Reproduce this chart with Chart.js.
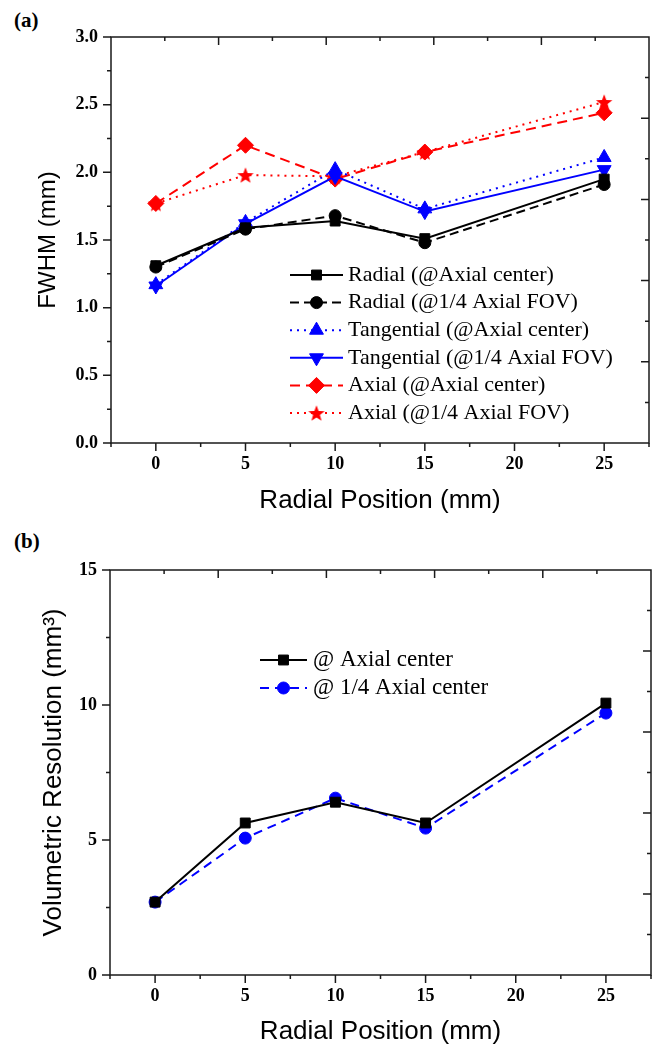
<!DOCTYPE html>
<html>
<head>
<meta charset="utf-8">
<title>FWHM and volumetric resolution vs radial position</title>
<script src="https://cdn.jsdelivr.net/npm/chart.js"></script>
<style>
  body { margin: 0; background: #fff; }
  .panel { position: absolute; left: 0; }
  .tag { position: absolute; left: 14px; font: bold 21px 'Liberation Serif', serif; line-height: 1; }
</style>
</head>
<body>
<div class="tag" style="top:10px">(a)</div>
<div class="panel" style="top:0"><canvas id="fwhm" width="659" height="518"></canvas></div>
<div class="tag" style="top:531px">(b)</div>
<div class="panel" style="top:525px"><canvas id="vol" width="659" height="522"></canvas></div>

<script>
// radial positions (mm)
const positions = [0, 5, 10, 15, 25];

// (a) FWHM in mm
const radialCenter  = [1.31, 1.59, 1.64, 1.51, 1.95];
const radialQuarter = [1.30, 1.58, 1.68, 1.48, 1.91];
const tangCenter    = [1.17, 1.63, 2.02, 1.73, 2.11];
const tangQuarter   = [1.16, 1.62, 1.97, 1.71, 2.02];
const axialCenter   = [1.77, 2.20, 1.95, 2.15, 2.44];
const axialQuarter  = [1.77, 1.98, 1.97, 2.15, 2.52];

// (b) volumetric resolution in mm^3
const volCenter  = [2.70, 5.63, 6.40, 5.63, 10.07];
const volQuarter = [2.70, 5.07, 6.55, 5.44, 9.70];

// tick labels
const xTicks = [0, 5, 10, 15, 20, 25];
const fwhmTicks = [0, 0.5, 1.0, 1.5, 2.0, 2.5, 3.0];
const volTicks = [0, 5, 10, 15];

const tickFont = { family: 'Liberation Serif', size: 18, weight: 'bold' };
const titleFont = { family: 'Liberation Sans', size: 26 };

function pts(vals) {
  return positions.map((x, i) => ({ x: x, y: vals[i] }));
}

// filled red star for the last series
const starImg = (function () {
  const c = document.createElement('canvas');
  c.width = 18; c.height = 18;
  const g = c.getContext('2d');
  g.fillStyle = '#ff0000';
  g.beginPath();
  for (let i = 0; i < 10; i++) {
    const r = i % 2 ? 3.6 : 8.6;
    const a = -Math.PI / 2 + i * Math.PI / 5;
    const px = 9 + r * Math.cos(a), py = 9.8 + r * Math.sin(a);
    if (i) g.lineTo(px, py); else g.moveTo(px, py);
  }
  g.closePath();
  g.fill();
  return c;
})();

function series(label, vals, color, dash, style, radius, rot) {
  return {
    label: label,
    data: pts(vals),
    borderColor: color,
    backgroundColor: color,
    pointBackgroundColor: color,
    pointBorderColor: color,
    pointBorderWidth: 1,
    borderWidth: 2,
    borderDash: dash,
    pointStyle: style,
    pointRadius: radius,
    pointRotation: rot || 0,
    tension: 0
  };
}

// frame with ticks on all four sides (Origin style)
const frameTicks = {
  id: 'frameTicks',
  afterDraw(chart, args, opts) {
    const { ctx, chartArea: a, scales } = chart;
    const near = (v, m) => Math.abs(v / m - Math.round(v / m)) < 1e-6;
    ctx.save();
    ctx.strokeStyle = '#1a1a1a';
    ctx.lineWidth = 1.5;
    ctx.strokeRect(a.left, a.top, a.right - a.left, a.bottom - a.top);
    ctx.beginPath();
    const xs = scales.x, ys = scales.y;
    for (let v = xs.min; v <= xs.max + 1e-9; v += opts.xMinor) {
      const px = xs.getPixelForValue(v);
      const len = near(v, opts.xMajor) ? 8 : 4;
      ctx.moveTo(px, a.bottom); ctx.lineTo(px, a.bottom + len);
    }
    for (let v = ys.min; v <= ys.max + 1e-9; v += opts.yMinor) {
      const py = ys.getPixelForValue(v);
      const len = near(v, opts.yMajor) ? 8 : 4;
      ctx.moveTo(a.left, py); ctx.lineTo(a.left - len, py);
    }
    // mirrored top / right axes: 10 divisions, inward ticks
    for (let i = 1; i < 10; i++) {
      const len = i % 2 ? 4 : 8;
      const px = a.left + (a.right - a.left) * i / 10;
      ctx.moveTo(px, a.top); ctx.lineTo(px, a.top + len);
      const py = a.bottom - (a.bottom - a.top) * i / 10;
      ctx.moveTo(a.right, py); ctx.lineTo(a.right - len, py);
    }
    ctx.stroke();
    ctx.restore();
  }
};

// legend drawn inside the plot: line + marker + text
const inlineLegend = {
  id: 'inlineLegend',
  afterDraw(chart, args, opts) {
    const ctx = chart.ctx;
    ctx.save();
    chart.data.datasets.forEach((ds, i) => {
      const y = opts.y + i * opts.gap;
      ctx.strokeStyle = ds.borderColor;
      ctx.lineWidth = ds.borderWidth;
      ctx.setLineDash(ds.borderDash || []);
      ctx.beginPath();
      ctx.moveTo(opts.x0, y);
      ctx.lineTo(opts.x1, y);
      ctx.stroke();
      ctx.setLineDash([]);
      ctx.fillStyle = ds.pointBackgroundColor;
      ctx.strokeStyle = ds.pointBorderColor;
      ctx.lineWidth = 1;
      Chart.helpers.drawPoint(ctx, {
        pointStyle: ds.pointStyle,
        rotation: ds.pointRotation,
        radius: ds.pointRadius,
        borderWidth: 1
      }, (opts.x0 + opts.x1) / 2, y);
      ctx.fillStyle = '#000';
      ctx.font = opts.font;
      ctx.textBaseline = 'middle';
      ctx.fillText(ds.label, opts.tx, y);
    });
    ctx.restore();
  }
};

function makeOptions(o) {
  return {
    responsive: false,
    animation: false,
    events: [],
    layout: { padding: o.padding },
    plugins: {
      legend: { display: false },
      tooltip: { enabled: false },
      frameTicks: o.ticks,
      inlineLegend: o.legend
    },
    scales: {
      x: {
        type: 'linear',
        min: -2.5,
        max: 27.5,
        grid: { display: false, drawTicks: false },
        border: { display: false },
        afterBuildTicks: s => { s.ticks = xTicks.map(v => ({ value: v })); },
        afterFit: s => { s.height = o.xHeight; },
        ticks: { color: '#000', font: tickFont, padding: 11, maxRotation: 0 },
        title: { display: true, text: 'Radial Position (mm)', color: '#000', font: titleFont, padding: { top: 4, bottom: o.xTitlePad } }
      },
      y: {
        min: o.yMin,
        max: o.yMax,
        grid: { display: false, drawTicks: false },
        border: { display: false },
        afterBuildTicks: s => { s.ticks = o.yTicks.map(v => ({ value: v })); },
        afterFit: s => { s.width = o.yWidth; },
        ticks: { color: '#000', font: tickFont, padding: 13, callback: o.yFmt },
        title: { display: true, text: o.yTitle, color: '#000', font: o.yTitleFont, padding: { top: 4, bottom: 0 } }
      }
    }
  };
}

new Chart(document.getElementById('fwhm'), {
  type: 'line',
  data: {
    datasets: [
      series('Radial (@Axial center)', radialCenter, '#000000', [], 'rect', 7),
      series('Radial (@1/4 Axial FOV)', radialQuarter, '#000000', [9, 5], 'circle', 6),
      series('Tangential (@Axial center)', tangCenter, '#0000ff', [2, 5], 'triangle', 8),
      series('Tangential (@1/4 Axial FOV)', tangQuarter, '#0000ff', [], 'triangle', 8, 180),
      series('Axial (@Axial center)', axialCenter, '#ff0000', [10, 6], 'rectRot', 8),
      series('Axial (@1/4 Axial FOV)', axialQuarter, '#ff0000', [2, 5], starImg, 9)
    ]
  },
  options: makeOptions({
    padding: { left: 30, top: 37, right: 4, bottom: 0 },
    xHeight: 75,
    xTitlePad: 2,
    yWidth: 81,
    yMin: 0,
    yMax: 3,
    yTicks: fwhmTicks,
    yFmt: v => v.toFixed(1),
    yTitle: 'FWHM (mm)',
    yTitleFont: { family: 'Liberation Sans', size: 24 },
    ticks: { xMinor: 2.5, xMajor: 5, yMinor: 0.25, yMajor: 0.5 },
    legend: { x0: 290, x1: 343, tx: 348, y: 275, gap: 27.6, font: "22px 'Liberation Serif'" }
  }),
  plugins: [frameTicks, inlineLegend]
});

new Chart(document.getElementById('vol'), {
  type: 'line',
  data: {
    datasets: [
      series('@ Axial center', volCenter, '#000000', [], 'rect', 7),
      series('@ 1/4 Axial center', volQuarter, '#0000ff', [9, 6], 'circle', 6)
    ]
  },
  options: makeOptions({
    padding: { left: 34, top: 45, right: 4, bottom: 0 },
    xHeight: 72,
    xTitlePad: 0,
    yWidth: 76,
    yMin: 0,
    yMax: 15,
    yTicks: volTicks,
    yFmt: v => String(v),
    yTitle: 'Volumetric Resolution (mm\u00B3)',
    yTitleFont: { family: 'Liberation Sans', size: 26 },
    ticks: { xMinor: 2.5, xMajor: 5, yMinor: 2.5, yMajor: 5 },
    legend: { x0: 260, x1: 307, tx: 313, y: 135, gap: 28, font: "23px 'Liberation Serif'" }
  }),
  plugins: [frameTicks, inlineLegend]
});
</script>
</body>
</html>
